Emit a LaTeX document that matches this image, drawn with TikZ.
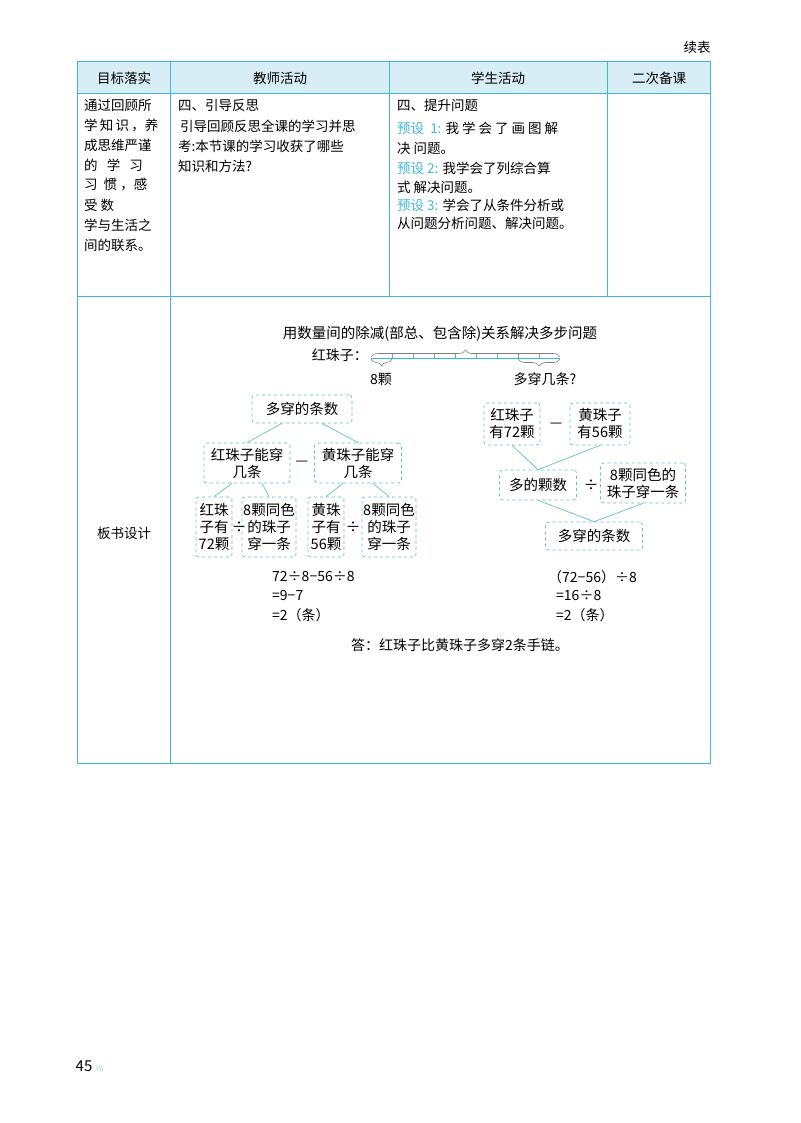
\documentclass[tikz,border=0pt]{standalone}
\usepackage{fontspec}
\setmainfont{Noto Sans CJK SC}
\usetikzlibrary{decorations.pathreplacing}
\definecolor{cy}{HTML}{3FB8D8}
\definecolor{hd}{HTML}{D8EEF6}
\definecolor{bx}{HTML}{5CC2C8}
\tikzset{
 t/.style={anchor=west,inner sep=0,font=\fontsize{13.5}{15}\selectfont},
 bxs/.style={draw=bx,dashed,rounded corners=3pt,line width=0.7pt,fill=white,align=center,inner sep=2pt,font=\fontsize{14.5}{17}\selectfont},
 ln/.style={draw=bx,line width=0.7pt},
 d/.style={font=\fontsize{14}{16}\selectfont,inner sep=0,anchor=west},
 brc/.style={gray,line width=0.6pt,decorate,decoration={brace,amplitude=7pt,raise=0pt}}
}
\begin{document}
\begin{tikzpicture}[x=1pt,y=-1pt]
\useasboundingbox (0,0) rectangle (800,1123);
\fill[hd] (77,62) rectangle (710,93);
\draw[cy,line width=1pt] (77,62) rectangle (710,763);
\draw[cy,line width=0.8pt] (77,93)--(710,93) (77,296)--(710,296);
\draw[cy,line width=0.8pt] (170,62)--(170,763) (389,62)--(389,296) (607,62)--(607,296);
\node[inner sep=0,font=\fontsize{13.5}{15}\selectfont] at (697,47) {续表};
\foreach \x/\s in {124/目标落实,280/教师活动,498/学生活动,659/二次备课}
  \node[inner sep=0,font=\fontsize{13.5}{15}\selectfont] at (\x,78) {\s};
\foreach \i/\s in {0/通过回顾所,1/学\,知\,识\,，养,2/成思维严谨,3/的\ \ \ 学\ \ \ 习,4/习\ \ 惯\ ，感,5/受\ 数,6/学与生活之,7/间的联系。}
  \node[t] at (84,{105+20*\i}) {\s};
\node[t] at (178,105) {四、引导反思};
\node[t] at (180,126) {引导回顾反思全课的学习并思};
\node[t] at (178,146) {考:本节课的学习收获了哪些};
\node[t] at (178,166) {知识和方法?};
\node[t] at (397,105) {四、提升问题};
\node[t] at (397,128) {\textcolor{cy}{预设\ \ 1:} 我\ 学\ 会\ 了\ 画\ 图\ 解};
\node[t] at (397,148) {决 问题。};
\node[t] at (397,168) {\textcolor{cy}{预设\ 2:} 我学会了列综合算};
\node[t] at (397,187) {式 解决问题。};
\node[t] at (397,205) {\textcolor{cy}{预设\ 3:} 学会了从条件分析或};
\node[t] at (397,223) {从问题分析问题、解决问题。};
\node[inner sep=0,font=\fontsize{13.5}{15}\selectfont] at (124,533) {板书设计};
% diagram
\node[inner sep=0,font=\fontsize{14.5}{16}\selectfont] (title) at (440,334) {用数量间的除减(部总、包含除)关系解决多步问题};
\node[d,anchor=east] (hz) at (368,355) {红珠子：};
\draw[cy,line width=0.8pt] (371,358)--(560,358);
\foreach \x in {392,413,434,455,476,497,518,539} \draw[cy,line width=0.6pt] (\x,358)--(\x,354);
\draw[brc] (371,357)--(560,357);
\draw[brc,decoration={mirror}] (371,359)--(392,359);
\draw[brc,decoration={mirror}] (518,359)--(560,359);
\node[inner sep=0,font=\fontsize{14}{15}\selectfont] (l8) at (381,379) {8颗};
\node[inner sep=0,font=\fontsize{14}{15}\selectfont] (lq) at (545,379) {多穿几条?};
% left tree
\node[bxs,minimum width=100,minimum height=28] (a) at (302,409) {多穿的条数};
\node[bxs,minimum width=86,minimum height=40] (b1) at (247,463) {红珠子能穿\\几条};
\node[bxs,minimum width=87,minimum height=40] (b2) at (358,463) {黄珠子能穿\\几条};
\node[bxs,minimum width=36,minimum height=60,inner sep=1pt] (c1) at (214,527) {红珠\\子有\\72颗};
\node[bxs,minimum width=54,minimum height=60,inner sep=1pt] (c2) at (269,527) {8颗同色\\的珠子\\穿一条};
\node[bxs,minimum width=36,minimum height=60,inner sep=1pt] (c3) at (326,527) {黄珠\\子有\\56颗};
\node[bxs,minimum width=54,minimum height=60,inner sep=1pt] (c4) at (389,527) {8颗同色\\的珠子\\穿一条};
\node[font=\fontsize{14}{16}\selectfont] (m1) at (302,463) {—};
\node[font=\fontsize{15}{16}\selectfont] (d1) at (239,527) {÷};
\node[font=\fontsize{15}{16}\selectfont] (d2) at (353,527) {÷};
\draw[ln] (a.south)++(-20,0) -- (b1.north);
\draw[ln] (a.south)++(20,0) -- (b2.north);
\draw[ln] (b1.south)++(-15,0) -- (c1.north);
\draw[ln] (b1.south)++(15,0) -- (c2.north);
\draw[ln] (b2.south)++(-15,0) -- (c3.north);
\draw[ln] (b2.south)++(15,0) -- (c4.north);
% right tree
\node[bxs,minimum width=56,minimum height=42] (r1) at (512,424) {红珠子\\有72颗};
\node[bxs,minimum width=60,minimum height=42] (r2) at (600,424) {黄珠子\\有56颗};
\node[font=\fontsize{14}{16}\selectfont] (m2) at (556,425) {—};
\node[bxs,minimum width=77,minimum height=30] (r3) at (538,485) {多的颗数};
\node[font=\fontsize{15}{16}\selectfont] (d3) at (591,485) {÷};
\node[bxs,minimum width=85,minimum height=40] (r4) at (643,483) {8颗同色的\\珠子穿一条};
\node[bxs,minimum width=97,minimum height=28] (r5) at (594,536) {多穿的条数};
\draw[ln] (r1.south) -- (r3.north);
\draw[ln] (r2.south) -- (r3.north);
\draw[ln] (r3.south) -- (r5.north);
\draw[ln] (r4.south) -- (r5.north);
% equations
\node[d] (e1) at (272,577) {72÷8−56÷8};
\node[d] (e2) at (272,596) {=9−7};
\node[d] (e3) at (272,615) {=2（条）};
\node[d] (f1) at (548,577) {（72−56）÷8};
\node[d] (f2) at (556,596) {=16÷8};
\node[d] (f3) at (556,615) {=2（条）};
\node[inner sep=0,font=\fontsize{14}{16}\selectfont] (ans) at (460,645) {答：红珠子比黄珠子多穿2条手链。};
\node[inner sep=0,font=\fontsize{15}{17}\selectfont] (pg) at (84,1066) {45};
\node[inner sep=0,font=\fontsize{6}{7}\selectfont,cy] (pg2) at (100,1069) {\textbackslash\textbackslash\textbackslash};
\end{tikzpicture}
\end{document}
